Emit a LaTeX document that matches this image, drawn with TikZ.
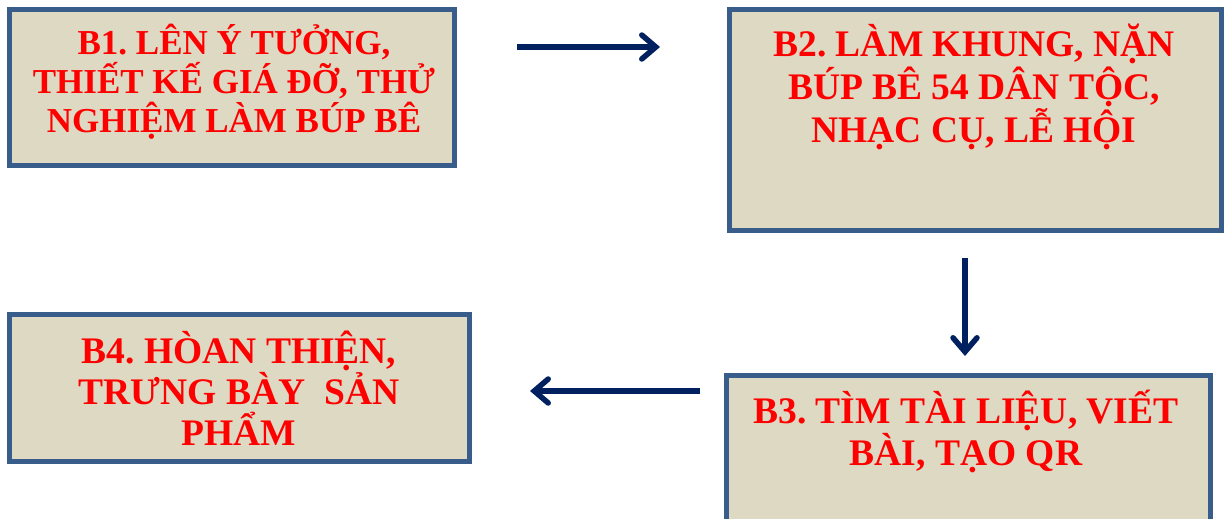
\documentclass[tikz,border=0pt]{standalone}
\usepackage{fontspec}
\setmainfont{Liberation Serif}
\usetikzlibrary{arrows.meta}
\definecolor{boxfill}{HTML}{DDD9C3}
\definecolor{boxline}{HTML}{385D8A}
\definecolor{arrowcol}{HTML}{002060}
\definecolor{txtred}{HTML}{FF0000}
\tikzset{
  stepbox/.style={draw=boxline, fill=boxfill, line width=5pt},
  steptext/.style={anchor=base, inner sep=0pt, text=txtred},
  flow/.style={draw=arrowcol, line width=5.5pt, -{Straight Barb[length=14pt,width=24pt,line cap=round]}},
}
\frenchspacing
\begin{document}
\begin{tikzpicture}[x=1pt,y=-1pt]
  \useasboundingbox (0,0) rectangle (1227,519);
  \clip (0,0) rectangle (1227,519);
  % boxes
  \draw[stepbox] (9.5,9.5) rectangle (454.5,165.5);
  \node[inner sep=0pt] (b1) at (232,87.5) {};
  \draw[stepbox] (729.5,9.5) rectangle (1221.5,230.5);
  \node[inner sep=0pt] (b2) at (975.5,120) {};
  \draw[stepbox] (726.5,375.5) rectangle (1210.5,560);
  \node[inner sep=0pt] (b3) at (968.5,450) {};
  \draw[stepbox] (9.5,314.5) rectangle (469.5,461.5);
  \node[inner sep=0pt] (b4) at (239.5,388) {};
  % texts
  \node[steptext] (t1) at (234,55) {\parbox[t]{440pt}{\centering\fontsize{35}{39}\selectfont\bfseries B1. LÊN Ý TƯỞNG,\\THIẾT KẾ GIÁ ĐỠ, THỬ\\NGHIỆM LÀM BÚP BÊ}};
  \node[steptext] (t2) at (974,57) {\parbox[t]{480pt}{\centering\fontsize{37.5}{43}\selectfont\bfseries B2. LÀM KHUNG, NẶN\\BÚP BÊ 54 DÂN TỘC,\\NHẠC CỤ, LỄ HỘI}};
  \node[steptext] (t3) at (966,423) {\parbox[t]{480pt}{\centering\fontsize{37.5}{42}\selectfont\bfseries B3. TÌM TÀI LIỆU, VIẾT\\BÀI, TẠO QR}};
  \node[steptext] (t4) at (239,363) {\parbox[t]{460pt}{\centering\fontsize{37.5}{41}\selectfont\bfseries B4. HÒAN THIỆN,\\TRƯNG BÀY~\ SẢN\\PHẨM}};
  % arrows
  \coordinate (a1s) at (517,47);
  \coordinate (a1e) at (660,47);
  \coordinate (a2s) at (965,258);
  \coordinate (a2e) at (965,356);
  \coordinate (a3s) at (700,391);
  \coordinate (a3e) at (530,391);
  \draw[flow] (a1s) -- (a1e);
  \draw[flow] (a2s) -- (a2e);
  \draw[flow] (a3s) -- (a3e);
\end{tikzpicture}
\end{document}
